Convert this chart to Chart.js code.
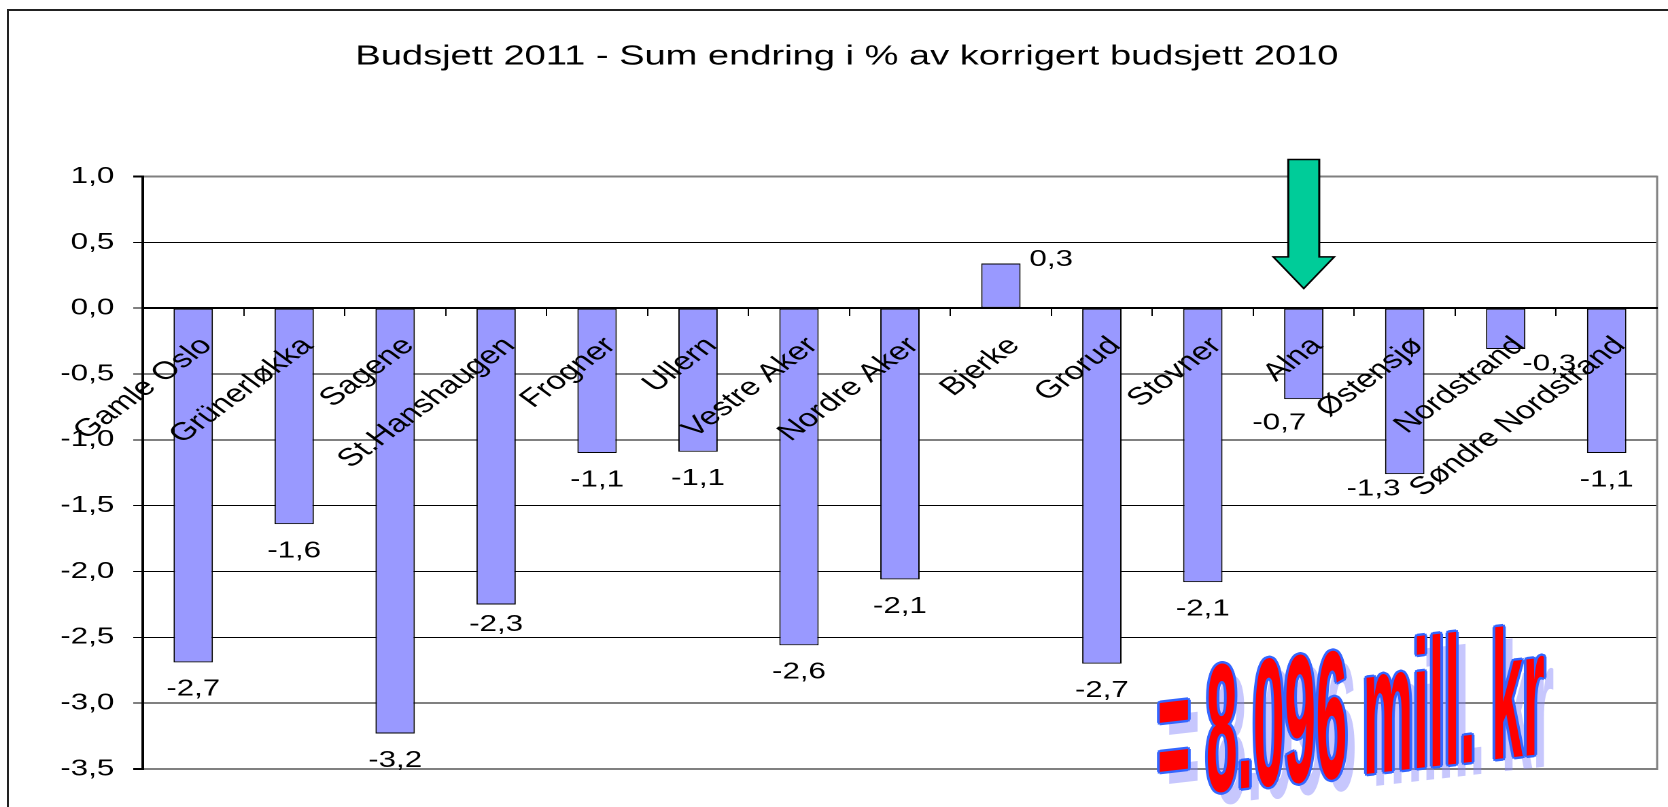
<!DOCTYPE html>
<html>
<head>
<meta charset="utf-8">
<title>Budsjett 2011</title>
<script src="https://cdn.jsdelivr.net/npm/chart.js@4.4.1/dist/chart.umd.min.js"></script>
<style>
    html, body { margin: 0; padding: 0; background: #fff; overflow: hidden; }
    body { width: 1668px; height: 807px; position: relative; }
    /* slide frame, cut off at the right and bottom like the original */
    .frame { position: absolute; left: 7px; top: 9px; width: 1700px; height: 900px;
             border-left: 2px solid #222; border-top: 2px solid #222; }
    /* the original chart was stretched sideways, so draw narrow and stretch */
    .wrap { position: absolute; left: 0; top: 0; width: 1227px; height: 807px;
            transform: scaleX(1.3594); transform-origin: 0 0; }
</style>
</head>
<body>
<div class="frame"></div>
<div class="wrap"><canvas id="budgetChart"></canvas></div>
<script>
// Data
const districts = ['Gamle Oslo', 'Grünerløkka', 'Sagene', 'St.Hanshaugen', 'Frogner', 'Ullern',
    'Vestre Aker', 'Nordre Aker', 'Bjerke', 'Grorud', 'Stovner', 'Alna', 'Østensjø',
    'Nordstrand', 'Søndre Nordstrand'];
const changePct = [-2.69, -1.64, -3.23, -2.25, -1.10, -1.09, -2.56, -2.06, 0.34, -2.70,
    -2.08, -0.69, -1.26, -0.31, -1.10];
const yTicks = [1.0, 0.5, 0.0, -0.5, -1.0, -1.5, -2.0, -2.5, -3.0, -3.5];
const titleText = 'Budsjett 2011 - Sum endring i % av korrigert budsjett 2010';
const totalText = '= 8.096 mill. kr';
const highlightIndex = 11; // Alna

const FONT = "'Liberation Sans', Arial, sans-serif";
Chart.defaults.font.family = FONT;
Chart.defaults.color = '#000';

// 1 decimal, comma as separator
function fmt(v) {
    return v.toFixed(1).replace('.', ',');
}

// Value labels outside the bar ends (some were dragged by hand in the original)
const valueLabels = {
    id: 'valueLabels',
    afterDatasetsDraw(chart, args, opts) {
        const { ctx } = chart;
        const meta = chart.getDatasetMeta(0);
        ctx.save();
        ctx.font = `23px ${FONT}`;
        ctx.fillStyle = '#000';
        ctx.textAlign = 'center';
        ctx.textBaseline = 'middle';
        meta.data.forEach((bar, i) => {
            const v = changePct[i];
            const n = opts.nudge[i] || [0, 0];
            const y = bar.y + (v < 0 ? opts.gap : -opts.gap) + n[1];
            ctx.fillText(fmt(v), bar.x + n[0], y);
        });
        ctx.restore();
    }
};

// Grey right edge of the plot area
const plotFrame = {
    id: 'plotFrame',
    beforeDatasetsDraw(chart) {
        const { ctx, chartArea } = chart;
        ctx.save();
        ctx.strokeStyle = '#808080';
        ctx.lineWidth = 1.5;
        ctx.beginPath();
        ctx.moveTo(chartArea.right, chartArea.top - 1);
        ctx.lineTo(chartArea.right, chartArea.bottom + 1);
        ctx.stroke();
        ctx.restore();
    }
};

// Green arrow pointing at Alna
const arrow = {
    id: 'arrow',
    afterDraw(chart) {
        const { ctx, scales: { x, y } } = chart;
        const cx = x.getPixelForValue(highlightIndex);
        const top = y.getPixelForValue(1.13);
        const neck = y.getPixelForValue(0.39);
        const tip = y.getPixelForValue(0.15);
        const sw = 11.4, hw = 22.4;
        ctx.save();
        ctx.beginPath();
        ctx.moveTo(cx - sw, top);
        ctx.lineTo(cx + sw, top);
        ctx.lineTo(cx + sw, neck);
        ctx.lineTo(cx + hw, neck);
        ctx.lineTo(cx, tip);
        ctx.lineTo(cx - hw, neck);
        ctx.lineTo(cx - sw, neck);
        ctx.closePath();
        ctx.fillStyle = '#00cc99';
        ctx.fill();
        ctx.lineWidth = 1.5;
        ctx.strokeStyle = '#000';
        ctx.stroke();
        ctx.restore();
    }
};

// WordArt-ish total: red, blue outline, dotted blue shadow, slanting upwards
const wordArt = {
    id: 'wordArt',
    afterDraw(chart) {
        const { ctx, scales: { x, y } } = chart;
        const x0 = x.getPixelForValue(9.55);
        const y0 = y.getPixelForValue(-3.72);
        const draw = (dx, dy, color) => {
            ctx.save();
            ctx.translate(x0 + dx, y0 + dy);
            ctx.transform(1, -0.156, 0, 1, 0, 0);
            ctx.scale(0.228, 1);
            ctx.font = `bold 182px ${FONT}`;
            ctx.textAlign = 'left';
            ctx.textBaseline = 'alphabetic';
            ctx.fillStyle = color;
            ctx.fillText(totalText, 0, 0);
            ctx.restore();
        };
        draw(7, 12, 'rgba(130, 130, 250, 0.45)');
        [[-2, 0], [2, 0], [0, -2.5], [0, 2.5], [-1.4, -1.8], [1.4, 1.8], [1.4, -1.8], [-1.4, 1.8]]
            .forEach(([dx, dy]) => draw(dx, dy, '#3366ff'));
        draw(0, 0, '#ff0000');
    }
};

const ctx = document.getElementById('budgetChart').getContext('2d');
new Chart(ctx, {
    type: 'bar',
    data: {
        labels: districts,
        datasets: [{
            data: changePct,
            backgroundColor: '#9999ff',
            borderColor: '#000',
            borderWidth: 1,
            borderSkipped: false,
            barPercentage: 0.39,
            categoryPercentage: 1.0
        }]
    },
    options: {
        responsive: true,
        maintainAspectRatio: false,
        devicePixelRatio: 2,
        animation: false,
        layout: { padding: { left: 27, right: 8, top: 0, bottom: 38 } },
        plugins: {
            legend: { display: false },
            tooltip: { enabled: false },
            title: {
                display: true,
                text: titleText,
                color: '#000',
                font: { size: 28, weight: 'normal' },
                padding: { top: 40, bottom: 103 }
            },
            valueLabels: {
                gap: 27,
                nudge: { 3: [0, -7], 8: [37, 23], 11: [-18, -3], 12: [-23, -12], 13: [32, -12] }
            }
        },
        scales: {
            x: {
                position: { y: 0 },
                offset: true,
                grid: {
                    offset: true,
                    drawOnChartArea: false,
                    drawTicks: true,
                    tickLength: 7,
                    tickColor: '#000'
                },
                border: { display: true, color: '#000', width: 2, z: 1 },
                ticks: {
                    autoSkip: false,
                    minRotation: 45,
                    maxRotation: 45,
                    color: '#000',
                    font: { size: 25 },
                    padding: 16,
                    labelOffset: 10,
                    z: 1
                },
                afterFit(scale) {
                    scale.height = 0;
                    scale.paddingLeft = 0;
                    scale.paddingRight = 0;
                }
            },
            y: {
                min: yTicks[yTicks.length - 1],
                max: yTicks[0],
                afterBuildTicks(scale) {
                    scale.ticks = yTicks.map(v => ({ value: v }));
                },
                afterFit(scale) {
                    scale.width = 78;
                },
                grid: {
                    color: c => (c.tick && (c.tick.value === yTicks[0] || c.tick.value === yTicks[yTicks.length - 1])) ? '#808080' : '#000',
                    lineWidth: c => (c.tick && (c.tick.value === yTicks[0] || c.tick.value === yTicks[yTicks.length - 1])) ? 2 : 1,
                    tickLength: 7,
                    tickColor: '#000'
                },
                border: { display: true, color: '#000', width: 2 },
                ticks: {
                    color: '#000',
                    font: { size: 23 },
                    padding: 14,
                    callback: v => fmt(v)
                }
            }
        }
    },
    plugins: [valueLabels, plotFrame, arrow, wordArt]
});
</script>
</body>
</html>
